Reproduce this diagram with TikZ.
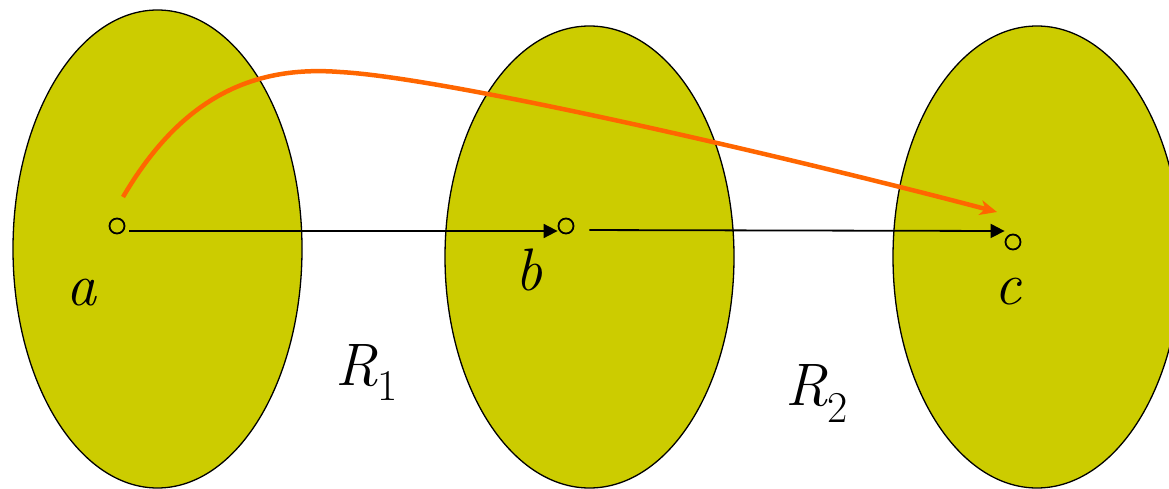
\documentclass[tikz,border=0pt]{standalone}
\usepackage{fontspec}
\usetikzlibrary{shapes.geometric,arrows.meta}
\definecolor{setfill}{HTML}{CCCC00}
\definecolor{arcorange}{HTML}{FF6600}
\tikzset{
  setell/.style={ellipse, draw=black, line width=1.3pt, fill=setfill, inner sep=0pt},
  elem/.style={circle, draw=black, line width=1.8pt, fill=setfill, minimum size=15pt, inner sep=0pt},
  rel/.style={line width=1.8pt, -{Triangle[length=14pt,width=14pt]}},
  comp/.style={line width=4.5pt, arcorange, -{Stealth[length=17pt,width=15pt,inset=5pt]}},
  lbl/.style={inner sep=0pt, font=\fontsize{60}{72}\selectfont\itshape}
}
\begin{document}
\begin{tikzpicture}[x=1pt,y=-1pt]
\useasboundingbox (0,0) rectangle (1169,489);
\node[setell, minimum width=289pt, minimum height=478pt] (A) at (157.5,249) {};
\node[setell, minimum width=289pt, minimum height=462pt] (B) at (589.5,257) {};
\node[setell, minimum width=288pt, minimum height=462pt] (C) at (1037,257) {};
\node[elem] (pa) at (117,226) {};
\node[elem] (pb) at (566,226) {};
\node[elem] (pc) at (1013,242) {};
\draw[rel, shorten <=4pt] ([yshift=-5pt]pa.east) -- ([yshift=-5pt]pb.west);
\draw[rel, shorten <=15pt] ([yshift=-4pt]pb.east) -- ([yshift=11pt]pc.west);
\coordinate (os) at (123,197);
\coordinate (om) at (340,72);
\draw[comp] (os) .. controls (180,100) and (250,65) .. (om)
  .. controls (450,78) and (800,160) .. ([shift={(-16pt,30pt)}]pc.center);
\node[lbl, anchor=base] (la) at (81,305) {a};
\node[lbl, anchor=base] (lb) at (529,290) {b};
\node[lbl, anchor=base] (lc) at (1008,304) {c};
\node[lbl, anchor=base west] (r1) at (335,385) {R\raisebox{-15pt}{\fontsize{44}{50}\selectfont\upshape 1}};
\node[lbl, anchor=base west] (r2) at (785,405) {R\raisebox{-17pt}{\fontsize{44}{50}\selectfont\upshape 2}};
\end{tikzpicture}
\end{document}
